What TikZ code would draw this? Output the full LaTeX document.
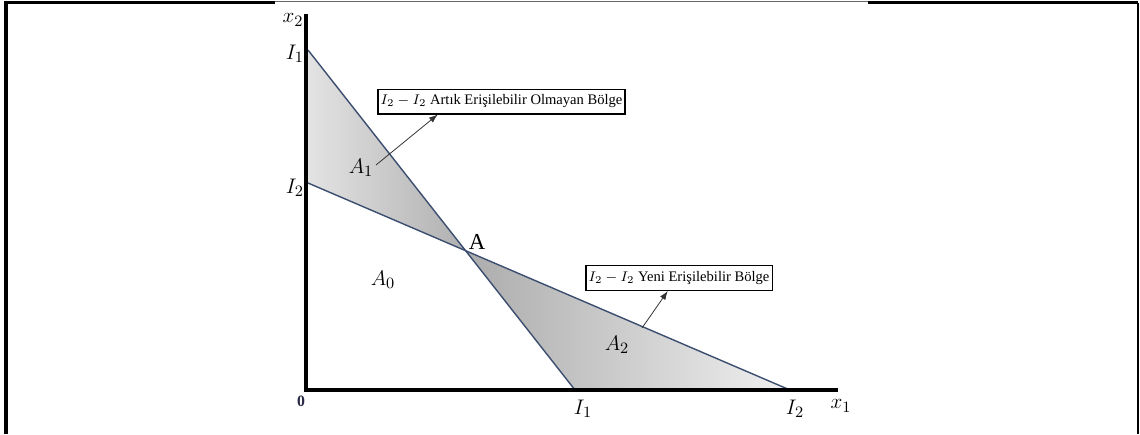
\documentclass[tikz,border=0pt]{standalone}
\usepackage{fontspec}
\setmainfont{Liberation Serif}
\usepackage{amsmath}
\usepackage{tikz}
\usetikzlibrary{arrows.meta,positioning,calc}
\definecolor{edgeblue}{RGB}{60,78,112}
\definecolor{zerocol}{RGB}{40,40,70}

\tikzset{
  axisline/.style={line width=2.3pt, black},
  budget/.style={edgeblue, line width=0.8pt},
  lbl/.style={font=\fontsize{13}{15}\selectfont, inner sep=1pt},
  regionbox/.style={draw, line width=0.6pt, inner sep=0pt, minimum height=14.2pt,
                    font=\fontsize{8.3}{10}\selectfont},
  pointer/.style={-{Latex[length=5pt,width=3.6pt]}, line width=0.45pt, black!80}
}

\begin{document}
\begin{tikzpicture}[x=0.02cm, y=-0.02cm]
  \useasboundingbox (0,0) rectangle (1140,434);
  % Frame
  \draw[line width=1.8pt] (6,434) -- (6,2.5) -- (275,2.5);
  \draw[line width=0.5pt, black!60] (275,1) -- (868,1);
  \draw[line width=1.8pt] (868,2.5) -- (1138,2.5);
  \draw[line width=1.1pt] (1138,2.5) -- (1138,434);
  % Points
  \coordinate (O) at (306,390);
  \coordinate (ya) at (308,50);
  \coordinate (yb) at (308,183);
  \coordinate (xa) at (575,390);
  \coordinate (xb) at (790,390);
  \coordinate (A) at (intersection of ya--xa and yb--xb);
  % Shaded regions
  \shade[left color=gray!22, right color=gray!62] (ya) -- (yb) -- (A) -- cycle;
  \shade[left color=gray!65, right color=gray!12] (A) -- (xa) -- (xb) -- cycle;
  % Budget lines
  \draw[budget] (ya) -- (xa);
  \draw[budget] (yb) -- (xb);
  % Axes
  \draw[axisline] (306,14) -- (O.center) -- (838,390);
  \node[lbl] (x2) at (293,20) {$x_2$};
  \node[lbl] (x1) at (841,406) {$x_1$};
  \node[font=\bfseries\small, text=zerocol] (zero) at (301,401) {0};
  \node[lbl, anchor=east] (ia) at (306,54) {$I_1$};
  \node[lbl, anchor=east] (ib) at (306,188) {$I_2$};
  \node[lbl] (xalbl) at (583,409) {$I_1$};
  \node[lbl] (xblbl) at (795,409) {$I_2$};
  % Region labels
  \node[lbl] (alab) at (477,242) {A};
  \node[lbl] (a0) at (383,280) {$A_0$};
  \node[lbl] (a1) at (361,168) {$A_1$};
  \node[lbl] (a2) at (617,345) {$A_2$};
  % Boxes
  \node[regionbox, minimum width=140.6pt] (lost) at (501.5,101.5)
    {$I_2 - I_2$ Artık Erişilebilir Olmayan Bölge};
  \node[regionbox, minimum width=105.9pt] (new) at (679,278)
    {$I_2 - I_2$ Yeni Erişilebilir Bölge};
  % Pointers
  \coordinate (p1) at (376,165);
  \coordinate (p2) at (642,328);
  \draw[pointer] (p1) -- ($(lost.south west)!0.243!(lost.south east)$);
  \draw[pointer] (p2) -- ($(new.south west)!0.44!(new.south east)$);
\end{tikzpicture}
\end{document}
